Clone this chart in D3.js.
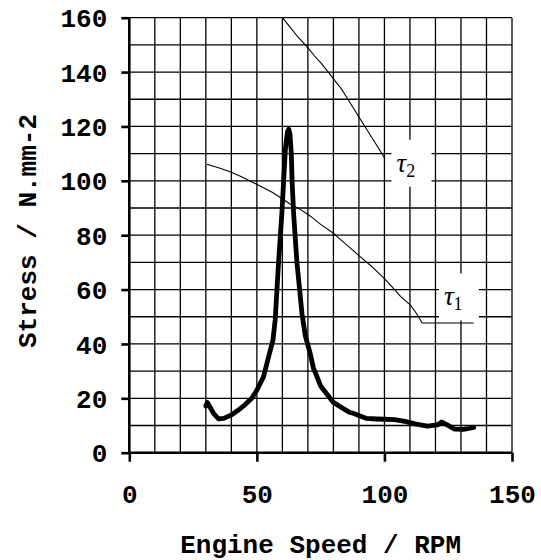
<!DOCTYPE html>
<html>
<head>
<meta charset="utf-8">
<script src="https://cdn.jsdelivr.net/npm/d3@7"></script>
<style>
  body { margin: 0; background: #fff; }
  .tick-label, .axis-title { font-family: "Liberation Mono", "Courier New", monospace; font-weight: bold; font-size: 26px; fill: #000; }
  .tau { font-family: "Liberation Serif", "Times New Roman", serif; fill: #000; }
</style>
</head>
<body>
<div id="chart"></div>
<script>
// stress curve (thick)
let stressSpeed = [30, 30.6, 31.5, 33, 35, 37, 40, 42.5, 44.8, 48, 50, 52.6, 54.6, 56.3, 57.2, 58.5, 59.8, 60.5, 61.2, 62, 62.5, 63, 63.5, 63.8, 64.4, 65.7, 67.7, 69, 70.9, 72.2, 73.6, 75, 77.5, 80, 82.7, 86, 88, 93, 97, 100, 104, 108, 112, 116.8, 120.7, 122.5, 124.6, 127.5, 131, 133, 135]
let stressValue = [17.2, 18.5, 17, 14.5, 12.4, 12.6, 13.9, 15.5, 17.2, 20, 23, 27.9, 35.3, 41.4, 49, 70, 88, 100, 112, 118, 119, 117, 110, 100, 88, 70, 51, 43, 36.5, 31, 27.9, 24.5, 21.5, 18.5, 16.9, 15, 14.4, 12.6, 12.4, 12.3, 12.2, 11.5, 10.6, 9.8, 10.2, 11.3, 10.2, 8.7, 8.6, 8.9, 9.3]

// tau2 limit
let tau2Speed = [60, 63, 66, 70, 72.5, 75, 78, 80, 83, 85, 88, 90, 93, 95, 98, 100]
let tau2Value = [160, 156.5, 153, 149, 146, 143.5, 140, 137.5, 134, 131, 126.5, 123.5, 119, 116, 111.5, 108.5]

// tau1 limit
let tau1Speed = [30.4, 35, 39.5, 44, 48.7, 52, 56, 59.8, 63, 67, 71, 75, 80, 82, 86, 90.6, 95, 100, 103, 106.3, 110.2, 112.5, 114.8, 135]
let tau1Value = [106.1, 104.8, 103.3, 101.5, 99.3, 97.7, 95.8, 93.5, 91.5, 89.5, 87, 84, 80.7, 79, 75.8, 72, 68.5, 64, 61, 57.5, 54.3, 51.3, 47.7, 47.7]

// labels: name, subscript, position in data units
let labelNames = ["\u03c4", "\u03c4"]
let labelSubs = ["2", "1"]
let labelSpeed = [110.6, 129.2]
let labelValue = [106.3, 57.1]

let xTicks = [0, 50, 100, 150]
let yTicks = [0, 20, 40, 60, 80, 100, 120, 140, 160]

let margin = {top: 17.7, right: 29, bottom: 107.3, left: 129.3},
    width = 541 - margin.left - margin.right,
    height = 560 - margin.top - margin.bottom

let xScale = d3.scaleLinear().domain([0, 150]).range([0, width])
let yScale = d3.scaleLinear().domain([0, 160]).range([height, 0])

let svg = d3.select("#chart").append("svg")
    .attr("width", 541)
    .attr("height", 560)
  .append("g")
    .attr("transform", "translate(" + margin.left + "," + margin.top + ")")

// grid, every 10 units both ways
svg.append("g")
  .selectAll("line")
  .data(d3.range(10, 151, 10))
  .enter().append("line")
    .attr("x1", d => xScale(d)).attr("x2", d => xScale(d))
    .attr("y1", 0).attr("y2", height)
    .attr("stroke", "#000").attr("stroke-width", 1.3)

svg.append("g")
  .selectAll("line")
  .data(d3.range(10, 161, 10))
  .enter().append("line")
    .attr("x1", 0).attr("x2", width)
    .attr("y1", d => yScale(d)).attr("y2", d => yScale(d))
    .attr("stroke", "#000").attr("stroke-width", 1.3)

// axes
let xAxis = d3.axisBottom(xScale).tickValues(xTicks).tickSize(9).tickFormat("")
let yAxis = d3.axisLeft(yScale).tickValues(yTicks).tickSize(8).tickFormat("")

let gx = svg.append("g")
  .attr("transform", "translate(0," + height + ")")
  .call(xAxis)
let gy = svg.append("g").call(yAxis)

gx.select(".domain").attr("d", "M0,0H" + width)
gy.select(".domain").attr("d", "M0," + height + "V0")
svg.selectAll(".domain").attr("stroke", "#000").attr("stroke-width", 2.6)
svg.selectAll(".tick line").attr("stroke", "#000").attr("stroke-width", 2.6)

gx.selectAll(".tick").append("text")
  .attr("class", "tick-label")
  .attr("y", 50)
  .attr("text-anchor", "middle")
  .text(d => d)

gy.selectAll(".tick").append("text")
  .attr("class", "tick-label")
  .attr("x", -22)
  .attr("dy", "0.35em")
  .attr("text-anchor", "end")
  .text(d => d)

// axis titles
svg.append("text")
  .attr("class", "axis-title")
  .attr("text-anchor", "middle")
  .attr("x", width / 2)
  .attr("y", height + 100)
  .text("Engine Speed / RPM")

svg.append("text")
  .attr("class", "axis-title")
  .attr("text-anchor", "middle")
  .attr("transform", "translate(" + (36 - margin.left) + "," + (231 - margin.top) + ") rotate(-90)")
  .text("Stress / N.mm-2")

// curves
let line = d3.line()
  .x(d => xScale(d[0]))
  .y(d => yScale(d[1]))

let thin = [d3.zip(tau2Speed, tau2Value), d3.zip(tau1Speed, tau1Value)]
svg.append("g")
  .selectAll("path")
  .data(thin)
  .enter().append("path")
    .attr("d", line)
    .attr("fill", "none")
    .attr("stroke", "#000")
    .attr("stroke-width", 1.1)

svg.append("path")
  .attr("d", line(d3.zip(stressSpeed, stressValue)))
  .attr("fill", "none")
  .attr("stroke", "#000")
  .attr("stroke-width", 4.8)
  .attr("stroke-linejoin", "round")
  .attr("stroke-linecap", "round")

// tau labels with white boxes
let labels = svg.append("g")
  .selectAll("g")
  .data(d3.range(labelNames.length))
  .enter().append("g")
    .attr("transform", i => "translate(" + xScale(labelSpeed[i]) + "," + yScale(labelValue[i]) + ")")

labels.append("rect")
  .attr("x", -20).attr("y", -24)
  .attr("width", 40).attr("height", 47)
  .attr("fill", "#fff")

let lt = labels.append("text")
  .attr("class", "tau")
  .attr("x", -15)
  .attr("y", 8)
lt.append("tspan")
  .attr("font-size", 27)
  .attr("font-style", "italic")
  .text(i => labelNames[i])
lt.append("tspan")
  .attr("font-size", 18)
  .attr("dy", 5)
  .text(i => labelSubs[i])
</script>
</body>
</html>
